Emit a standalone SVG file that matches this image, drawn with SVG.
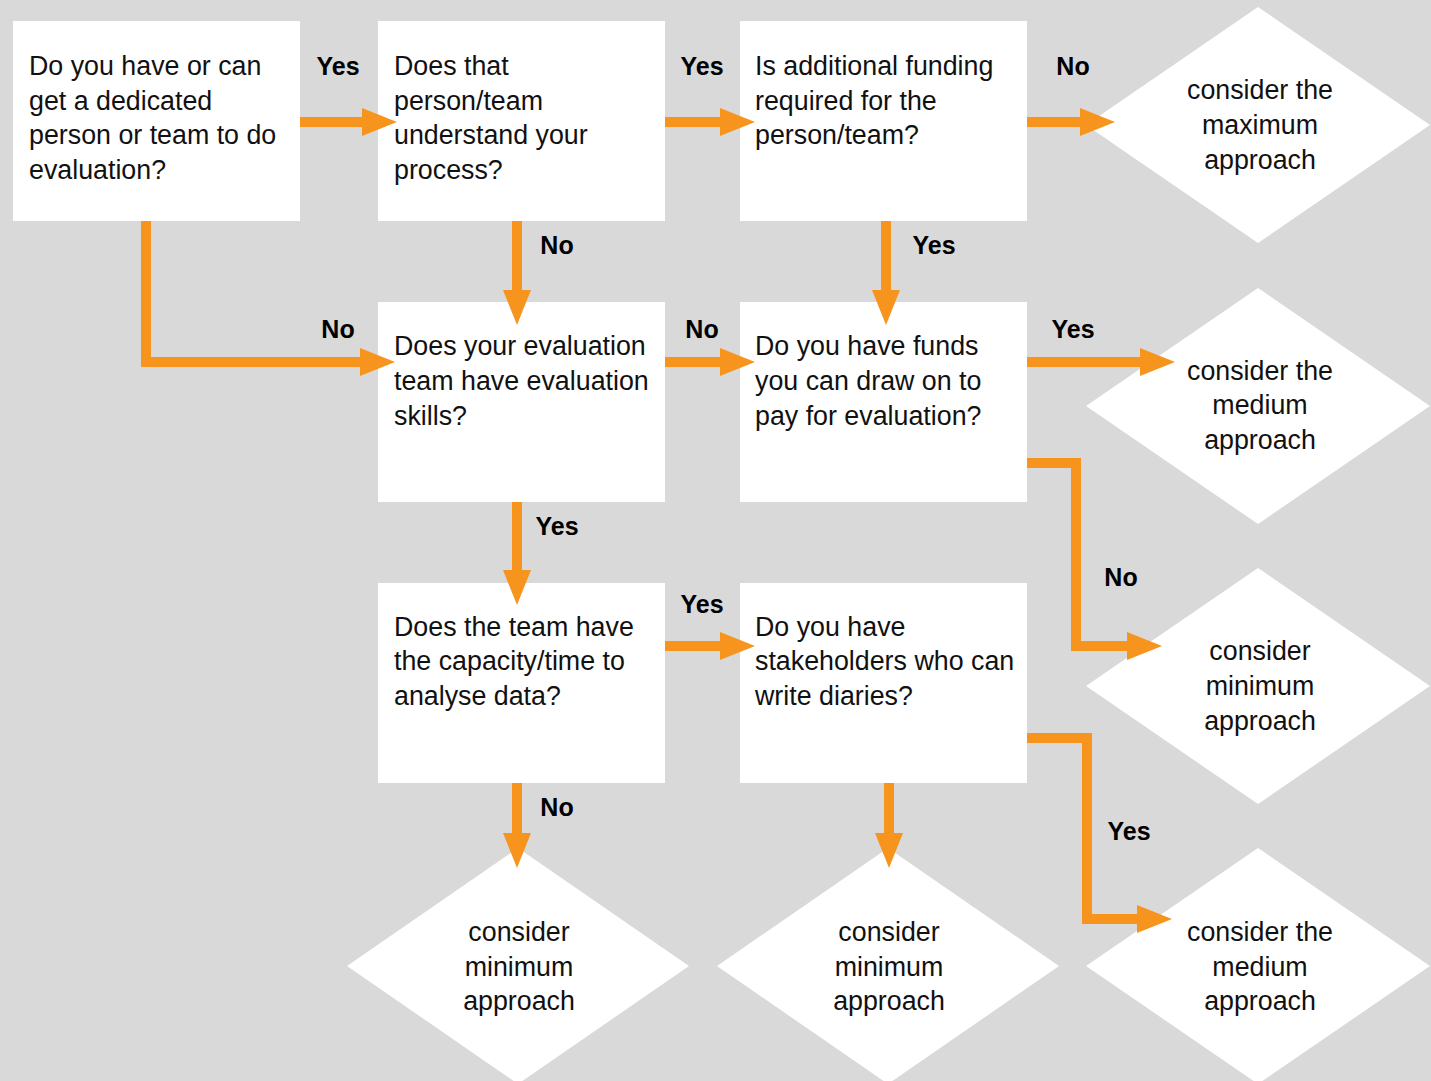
<svg xmlns="http://www.w3.org/2000/svg" width="1431" height="1081" viewBox="0 0 1431 1081">
<style>
.box{fill:#fff}
.t{font-family:"Liberation Sans",Arial,sans-serif;font-size:26.8px;fill:#111}
.c{text-anchor:middle}
.lbl{font-family:"Liberation Sans",Arial,sans-serif;font-size:25px;font-weight:bold;fill:#000;text-anchor:middle}
.ln{fill:none;stroke:#F7941D;stroke-width:10}
</style>
<defs>
<marker id="ah" markerUnits="userSpaceOnUse" markerWidth="36" markerHeight="30" refX="5" refY="15" orient="auto" overflow="visible">
<path d="M0,1 L35,15 L0,29 Z" fill="#F7941D"/>
</marker>
</defs>
<rect width="1431" height="1081" fill="#D9D9D9"/>

<g id="q1"><rect class="box" x="13" y="21" width="287" height="200"/>
<text class="t" x="29" y="75">Do you have or can</text><text class="t" x="29" y="110">get a dedicated</text><text class="t" x="29" y="144">person or team to do</text><text class="t" x="29" y="179">evaluation?</text></g>
<g id="q2"><rect class="box" x="378" y="21" width="287" height="200"/>
<text class="t" x="394" y="75">Does that</text><text class="t" x="394" y="110">person/team</text><text class="t" x="394" y="144">understand your</text><text class="t" x="394" y="179">process?</text></g>
<g id="q3"><rect class="box" x="740" y="21" width="287" height="200"/>
<text class="t" x="755" y="75">Is additional funding</text><text class="t" x="755" y="110">required for the</text><text class="t" x="755" y="144">person/team?</text></g>
<g id="q4"><rect class="box" x="378" y="302" width="287" height="200"/>
<text class="t" x="394" y="355">Does your evaluation</text><text class="t" x="394" y="390">team have evaluation</text><text class="t" x="394" y="425">skills?</text></g>
<g id="q5"><rect class="box" x="740" y="302" width="287" height="200"/>
<text class="t" x="755" y="355">Do you have funds</text><text class="t" x="755" y="390">you can draw on to</text><text class="t" x="755" y="425">pay for evaluation?</text></g>
<g id="q6"><rect class="box" x="378" y="583" width="287" height="200"/>
<text class="t" x="394" y="636">Does the team have</text><text class="t" x="394" y="670">the capacity/time to</text><text class="t" x="394" y="705">analyse data?</text></g>
<g id="q7"><rect class="box" x="740" y="583" width="287" height="200"/>
<text class="t" x="755" y="636">Do you have</text><text class="t" x="755" y="670">stakeholders who can</text><text class="t" x="755" y="705">write diaries?</text></g>

<g id="d1"><polygon class="box" points="1258,7 1430,125 1258,243 1086,125"/>
<text class="t c" x="1260" y="99">consider the</text><text class="t c" x="1260" y="134">maximum</text><text class="t c" x="1260" y="169">approach</text></g>
<g id="d2"><polygon class="box" points="1258,288 1430,406 1258,524 1086,406"/>
<text class="t c" x="1260" y="380">consider the</text><text class="t c" x="1260" y="414">medium</text><text class="t c" x="1260" y="449">approach</text></g>
<g id="d3"><polygon class="box" points="1258,568 1430,686 1258,804 1086,686"/>
<text class="t c" x="1260" y="660">consider</text><text class="t c" x="1260" y="695">minimum</text><text class="t c" x="1260" y="730">approach</text></g>
<g id="d4"><polygon class="box" points="1258,848 1430,966 1258,1084 1086,966"/>
<text class="t c" x="1260" y="941">consider the</text><text class="t c" x="1260" y="976">medium</text><text class="t c" x="1260" y="1010">approach</text></g>
<g id="d5"><polygon class="box" points="518,848 689,966 518,1084 347,966"/>
<text class="t c" x="519" y="941">consider</text><text class="t c" x="519" y="976">minimum</text><text class="t c" x="519" y="1010">approach</text></g>
<g id="d6"><polygon class="box" points="888,848 1059,966 888,1084 717,966"/>
<text class="t c" x="889" y="941">consider</text><text class="t c" x="889" y="976">minimum</text><text class="t c" x="889" y="1010">approach</text></g>

<g id="connectors">
<path class="ln" d="M300,122 H367" marker-end="url(#ah)"/>
<path class="ln" d="M665,122 H725" marker-end="url(#ah)"/>
<path class="ln" d="M1027,122 H1085" marker-end="url(#ah)"/>
<path class="ln" d="M517,221 V295" marker-end="url(#ah)"/>
<path class="ln" d="M886,221 V295" marker-end="url(#ah)"/>
<path class="ln" d="M146,221 V362 H365" marker-end="url(#ah)"/>
<path class="ln" d="M665,362 H725" marker-end="url(#ah)"/>
<path class="ln" d="M1027,362 H1145" marker-end="url(#ah)"/>
<path class="ln" d="M1027,463 H1076 V646 H1132" marker-end="url(#ah)"/>
<path class="ln" d="M517,502 V575" marker-end="url(#ah)"/>
<path class="ln" d="M665,646 H725" marker-end="url(#ah)"/>
<path class="ln" d="M517,783 V838" marker-end="url(#ah)"/>
<path class="ln" d="M889,783 V838" marker-end="url(#ah)"/>
<path class="ln" d="M1027,738 H1087 V919 H1142" marker-end="url(#ah)"/>
<text class="lbl" x="338" y="75">Yes</text>
<text class="lbl" x="702" y="75">Yes</text>
<text class="lbl" x="1073" y="75">No</text>
<text class="lbl" x="557" y="254">No</text>
<text class="lbl" x="934" y="254">Yes</text>
<text class="lbl" x="338" y="338">No</text>
<text class="lbl" x="702" y="338">No</text>
<text class="lbl" x="1073" y="338">Yes</text>
<text class="lbl" x="557" y="535">Yes</text>
<text class="lbl" x="1121" y="586">No</text>
<text class="lbl" x="702" y="613">Yes</text>
<text class="lbl" x="557" y="816">No</text>
<text class="lbl" x="1129" y="840">Yes</text>
</g>
</svg>
